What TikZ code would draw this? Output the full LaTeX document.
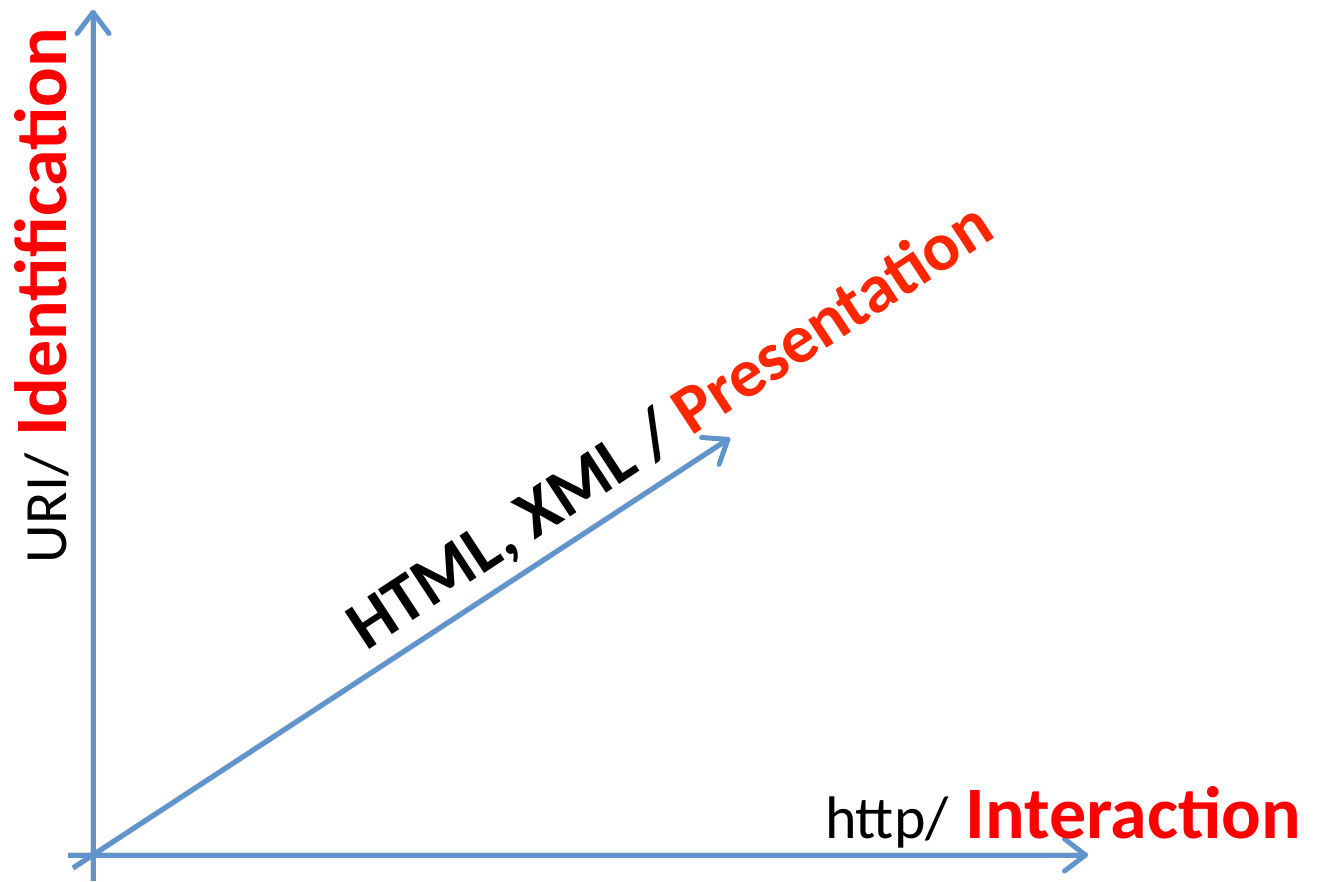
\documentclass[tikz,border=0pt]{standalone}
\usepackage{fontspec}
\setmainfont{Carlito}
\usetikzlibrary{arrows.meta}

\definecolor{axisblue}{RGB}{96,148,204}
\definecolor{labelred}{RGB}{255,0,0}
\definecolor{presred}{RGB}{255,38,0}

\newcommand{\plainsize}{\fontsize{60bp}{64bp}\selectfont}
\newcommand{\strongsize}{\bfseries\fontsize{74bp}{78bp}\selectfont}

\tikzset{
  axis/.style={draw=axisblue, line width=5bp,
    -{Straight Barb[length=21bp, width=32bp, line cap=round, line join=round]}},
  axisshadow/.style={draw=black, opacity=0.12, line width=6bp},
  label/.style={inner sep=0pt, outer sep=0pt, anchor=base west}
}

\begin{document}
\begin{tikzpicture}[x=1bp, y=-1bp]
  \useasboundingbox[fill=white] (0,0) rectangle (1318,881);

  % axis end points
  \coordinate (vstart) at (93,881);
  \coordinate (vend)   at (93,10);
  \coordinate (hstart) at (68,855);
  \coordinate (hend)   at (1088,855);
  \coordinate (dstart) at (73,868);
  \coordinate (dend)   at (730,438);

  % soft shadows under the axes
  \begin{scope}[shift={(2.5,3)}]
    \draw[axisshadow] (vstart) -- (vend);
    \draw[axisshadow] (hstart) -- (hend);
    \draw[axisshadow] (dstart) -- (dend);
  \end{scope}

  % the three axes
  \draw[axis] (vstart) -- (vend);
  \draw[axis] (hstart) -- (hend);
  \draw[axis] (dstart) -- (dend);

  % axis labels
  \node[label, rotate=90] (ylab) at (66,563)
    {{\plainsize URI/}{\strongsize\ \color{labelred}Identification}};
  \node[label] (xlab) at (825,838)
    {{\plainsize http/}{\strongsize\ \color{labelred}Interaction}};
  \node[label, rotate=33.3] (dlab) at (366,651)
    {\bfseries\fontsize{69bp}{73bp}\selectfont HTML, XML / \color{presred}Presentation};
\end{tikzpicture}
\end{document}
